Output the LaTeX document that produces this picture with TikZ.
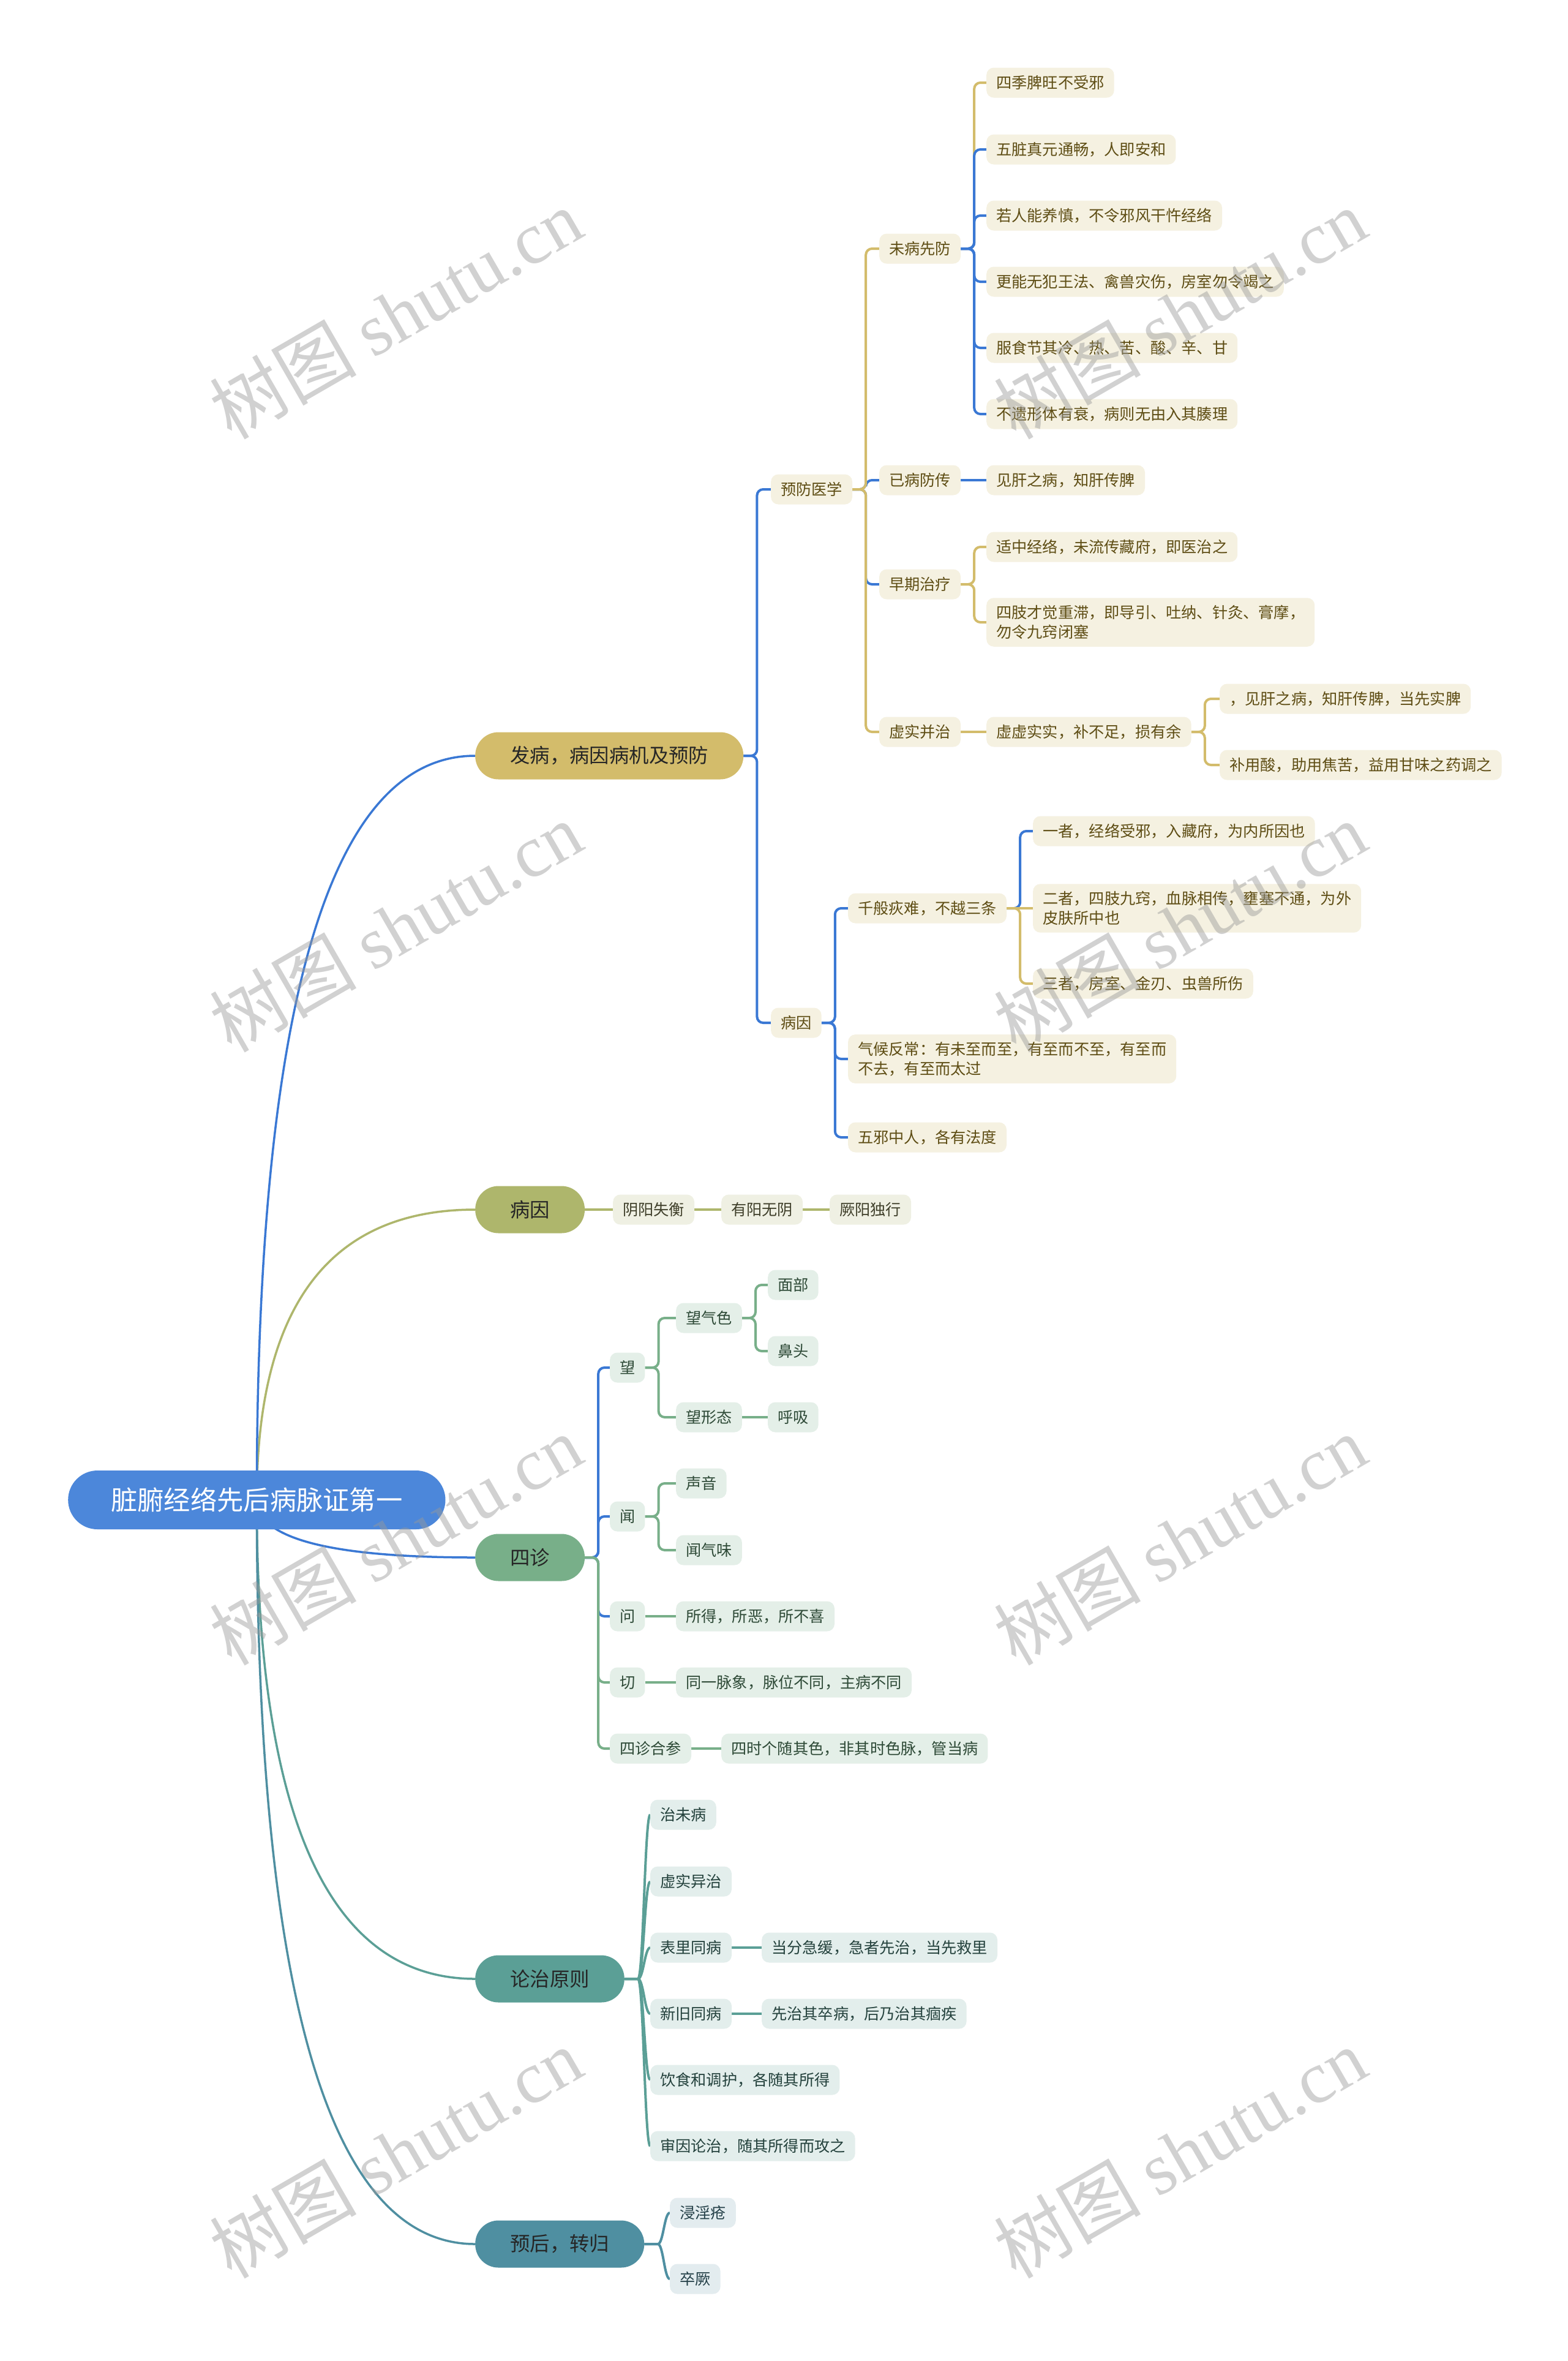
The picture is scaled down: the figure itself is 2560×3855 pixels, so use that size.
\documentclass[tikz,border=0pt]{standalone}
\usepackage{fontspec}
\setmainfont{Noto Sans CJK SC}
\newfontfamily\wmfont{Liberation Serif}
\usetikzlibrary{calc,backgrounds}

\definecolor{rootblue}{HTML}{4C87DA}
\definecolor{lineblue}{HTML}{3A78D4}
\definecolor{gold}{HTML}{D3BC6B}
\definecolor{goldbg}{HTML}{F5F1E1}
\definecolor{goldtx}{HTML}{5E4D14}
\definecolor{olive}{HTML}{AEB66C}
\definecolor{olivebg}{HTML}{EFF0E3}
\definecolor{olivetx}{HTML}{3F3F2A}
\definecolor{sage}{HTML}{78AF89}
\definecolor{sagebg}{HTML}{E4EFE8}
\definecolor{sagetx}{HTML}{2E4A37}
\definecolor{lunteal}{HTML}{5B9F96}
\definecolor{lunbg}{HTML}{E3EEEC}
\definecolor{luntx}{HTML}{23413C}
\definecolor{steel}{HTML}{4F8FA1}
\definecolor{steelbg}{HTML}{E3ECEF}
\definecolor{steeltx}{HTML}{233F47}

\tikzset{
  stem/.style={line width=3.5pt, to path={.. controls ($(\tikztostart)!.667!(\tikztostart|-\tikztotarget)$) and ($(\tikztotarget)!.667!(\tikztostart|-\tikztotarget)$) .. (\tikztotarget)}},
  elbow/.style={to path={-- ++(22,0) |- (\tikztotarget)}},
  scurve/.style={to path={-- ++(22,0) .. controls +(9,0) and ($(\tikztotarget)+(-9,0)$) .. (\tikztotarget)}},
}

\begin{document}
\begin{tikzpicture}[x=1pt, y=-1pt,
    rootnode/.style={anchor=west, rounded corners=48pt, inner xsep=70pt, inner ysep=0pt, minimum height=96pt, fill=rootblue, text=white, font=\fontsize{43.3}{50}\selectfont},
    branch/.style={anchor=west, rounded corners=38pt, inner xsep=57pt, inner ysep=0pt, minimum height=77pt, text=black!85, font=\fontsize{32.4}{40}\selectfont},
    leaf/.style={anchor=west, align=left, rounded corners=12pt, inner xsep=16pt, inner ysep=12pt, minimum height=49pt, font=\fontsize{25.2}{32}\selectfont},
    fanode/.style={leaf, fill=goldbg, text=goldtx},
    yinnode/.style={leaf, fill=olivebg, text=olivetx},
    zhennode/.style={leaf, fill=sagebg, text=sagetx},
    lunnode/.style={leaf, fill=lunbg, text=luntx},
    yunode/.style={leaf, fill=steelbg, text=steeltx},
    link/.style={line width=4pt, rounded corners=10pt},
    sweep/.style={line width=4pt},
    wmark/.style={rotate=30, opacity=.45, text=black!40, font=\fontsize{120}{120}\selectfont}]
  \useasboundingbox (0,0) rectangle (2560,3855);
  % raiz y ramas
  \node[rootnode] (root) at (111,2449) {脏腑经络先后病脉证第一};
  \node[branch, fill=gold] (fa) at (776,1234) {发病，病因病机及预防};
  \node[branch, fill=olive] (yb) at (776,1975) {病因};
  \node[branch, fill=sage] (sz) at (776,2543) {四诊};
  \node[branch, fill=lunteal] (lz) at (776,3231) {论治原则};
  \node[branch, fill=steel] (yh) at (776,3664) {预后，转归};
  % fabing
  \node[fanode] (yf) at (1259,799) {预防医学};
  \node[fanode] (wb) at (1436,406) {未病先防};
  \node[fanode] (wb1) at (1611,135) {四季脾旺不受邪};
  \node[fanode] (wb2) at (1611,244) {五脏真元通畅，人即安和};
  \node[fanode] (wb3) at (1611,352) {若人能养慎，不令邪风干忤经络};
  \node[fanode] (wb4) at (1611,460) {更能无犯王法、禽兽灾伤，房室勿令竭之};
  \node[fanode] (wb5) at (1611,568) {服食节其冷、热、苦、酸、辛、甘};
  \node[fanode] (wb6) at (1611,676) {不遗形体有衰，病则无由入其腠理};
  \node[fanode] (yb0) at (1436,784) {已病防传};
  \node[fanode] (yb1) at (1611,784) {见肝之病，知肝传脾};
  \node[fanode] (zq) at (1436,954) {早期治疗};
  \node[fanode] (zq1) at (1611,893) {适中经络，未流传藏府，即医治之};
  \node[fanode] (zq2) at (1611,1016) {四肢才觉重滞，即导引、吐纳、针灸、膏摩，\\勿令九窍闭塞};
  \node[fanode] (xs) at (1436,1195) {虚实并治};
  \node[fanode] (xs1) at (1611,1195) {虚虚实实，补不足，损有余};
  \node[fanode] (xs2) at (1992,1141) {，见肝之病，知肝传脾，当先实脾};
  \node[fanode] (xs3) at (1992,1249) {补用酸，助用焦苦，益用甘味之药调之};
  \node[fanode] (by) at (1259,1670) {病因};
  \node[fanode] (by1) at (1385,1483) {千般疢难，不越三条};
  \node[fanode] (sa1) at (1687,1357) {一者，经络受邪，入藏府，为内所因也};
  \node[fanode] (sa2) at (1687,1483) {二者，四肢九窍，血脉相传，壅塞不通，为外\\皮肤所中也};
  \node[fanode] (sa3) at (1687,1606) {三者，房室、金刃、虫兽所伤};
  \node[fanode] (by2) at (1385,1729) {气候反常：有未至而至，有至而不至，有至而\\不去，有至而太过};
  \node[fanode] (by3) at (1385,1857) {五邪中人，各有法度};
  % bingyin
  \node[yinnode] (yy1) at (1001,1975) {阴阳失衡};
  \node[yinnode] (yy2) at (1178,1975) {有阳无阴};
  \node[yinnode] (yy3) at (1355,1975) {厥阳独行};
  % sizhen
  \node[zhennode] (wang) at (996,2233) {望};
  \node[zhennode] (qise) at (1104,2152) {望气色};
  \node[zhennode] (mianbu) at (1254,2098) {面部};
  \node[zhennode] (bitou) at (1254,2206) {鼻头};
  \node[zhennode] (xingtai) at (1104,2314) {望形态};
  \node[zhennode] (huxi) at (1254,2314) {呼吸};
  \node[zhennode] (wen) at (996,2476) {闻};
  \node[zhennode] (shengyin) at (1104,2422) {声音};
  \node[zhennode] (qiwei) at (1104,2531) {闻气味};
  \node[zhennode] (wenq) at (996,2639) {问};
  \node[zhennode] (suode) at (1104,2639) {所得，所恶，所不喜};
  \node[zhennode] (qie) at (996,2747) {切};
  \node[zhennode] (maixiang) at (1104,2747) {同一脉象，脉位不同，主病不同};
  \node[zhennode] (hecan) at (996,2855) {四诊合参};
  \node[zhennode] (sishi) at (1178,2855) {四时个随其色，非其时色脉，管当病};
  % lunzhi
  \node[lunnode] (lun1) at (1062,2963) {治未病};
  \node[lunnode] (lun2) at (1062,3072) {虚实异治};
  \node[lunnode] (lun3) at (1062,3180) {表里同病};
  \node[lunnode] (lun4) at (1062,3288) {新旧同病};
  \node[lunnode] (lun5) at (1062,3396) {饮食和调护，各随其所得};
  \node[lunnode] (lun6) at (1062,3504) {审因论治，随其所得而攻之};
  \node[lunnode] (dang) at (1244,3180) {当分急缓，急者先治，当先救里};
  \node[lunnode] (xian) at (1244,3288) {先治其卒病，后乃治其痼疾};
  % yuhou
  \node[yunode] (yh1) at (1094,3613) {浸淫疮};
  \node[yunode] (yh2) at (1094,3721) {卒厥};

  \begin{scope}[on background layer]
    \fill[white] (0,0) rectangle (2560,3855);
    % tallos
    \draw[stem, olive] (root.center) to (yb.west);
    \draw[stem, lineblue] (root.center) to (fa.west);
    \draw[stem, lineblue] (root.center) to (sz.west);
    \draw[stem, lunteal] (root.center) to (lz.west);
    \draw[stem, steel] (root.center) to (yh.west);
    % fabing
    \draw[link, lineblue] (fa.east) to[elbow] (yf.west);
    \draw[link, lineblue] (fa.east) to[elbow] (by.west);
    \draw[link, lineblue] (yf.east) to[elbow] (yb0.west);
    \draw[link, lineblue] (yf.east) to[elbow] (zq.west);
    \draw[link, gold] (yf.east) to[elbow] (wb.west);
    \draw[link, gold] (yf.east) to[elbow] (xs.west);
    \draw[link, gold] (wb.east) to[elbow] (wb1.west);
    \foreach \k in {2,...,6} \draw[link, lineblue] (wb.east) to[elbow] (wb\k.west);
    \draw[link, lineblue] (yb0.east) -- (yb1.west);
    \draw[link, gold] (zq.east) to[elbow] (zq1.west);
    \draw[link, gold] (zq.east) to[elbow] (zq2.west);
    \draw[link, gold] (xs.east) -- (xs1.west);
    \draw[link, gold] (xs1.east) to[elbow] (xs2.west);
    \draw[link, gold] (xs1.east) to[elbow] (xs3.west);
    \foreach \k in {1,2,3} \draw[link, lineblue] (by.east) to[elbow] (by\k.west);
    \draw[link, lineblue] (by1.east) to[elbow] (sa1.west);
    \draw[link, gold] (by1.east) -- (sa2.west);
    \draw[link, gold] (by1.east) to[elbow] (sa3.west);
    % bingyin
    \draw[link, olive] (yb.east) -- (yy1.west);
    \draw[link, olive] (yy1.east) -- (yy2.west);
    \draw[link, olive] (yy2.east) -- (yy3.west);
    % sizhen
    \foreach \n in {wang,wen,wenq} \draw[link, lineblue] (sz.east) to[elbow] (\n.west);
    \foreach \n in {qie,hecan} \draw[link, sage] (sz.east) to[elbow] (\n.west);
    \draw[link, sage] (wang.east) to[elbow] (qise.west);
    \draw[link, sage] (wang.east) to[elbow] (xingtai.west);
    \draw[link, sage] (qise.east) to[elbow] (mianbu.west);
    \draw[link, sage] (qise.east) to[elbow] (bitou.west);
    \draw[link, sage] (xingtai.east) -- (huxi.west);
    \draw[link, sage] (wen.east) to[elbow] (shengyin.west);
    \draw[link, sage] (wen.east) to[elbow] (qiwei.west);
    \draw[link, sage] (wenq.east) -- (suode.west);
    \draw[link, sage] (qie.east) -- (maixiang.west);
    \draw[link, sage] (hecan.east) -- (sishi.west);
    % lunzhi y yuhou
    \foreach \k in {1,...,6} \draw[sweep, lunteal] (lz.east) to[scurve] (lun\k.west);
    \draw[link, lunteal] (lun3.east) -- (dang.west);
    \draw[link, lunteal] (lun4.east) -- (xian.west);
    \foreach \k in {1,2} \draw[sweep, steel] (yh.east) to[scurve] (yh\k.west);
  \end{scope}

  % marcas de agua
  \foreach \wx in {646,1927} \foreach \wy in {512,1513,2514,3515}
    \node[wmark] (wm-\wx-\wy) at (\wx,\wy) {树图 {\wmfont shutu.cn}};
\end{tikzpicture}
\end{document}
